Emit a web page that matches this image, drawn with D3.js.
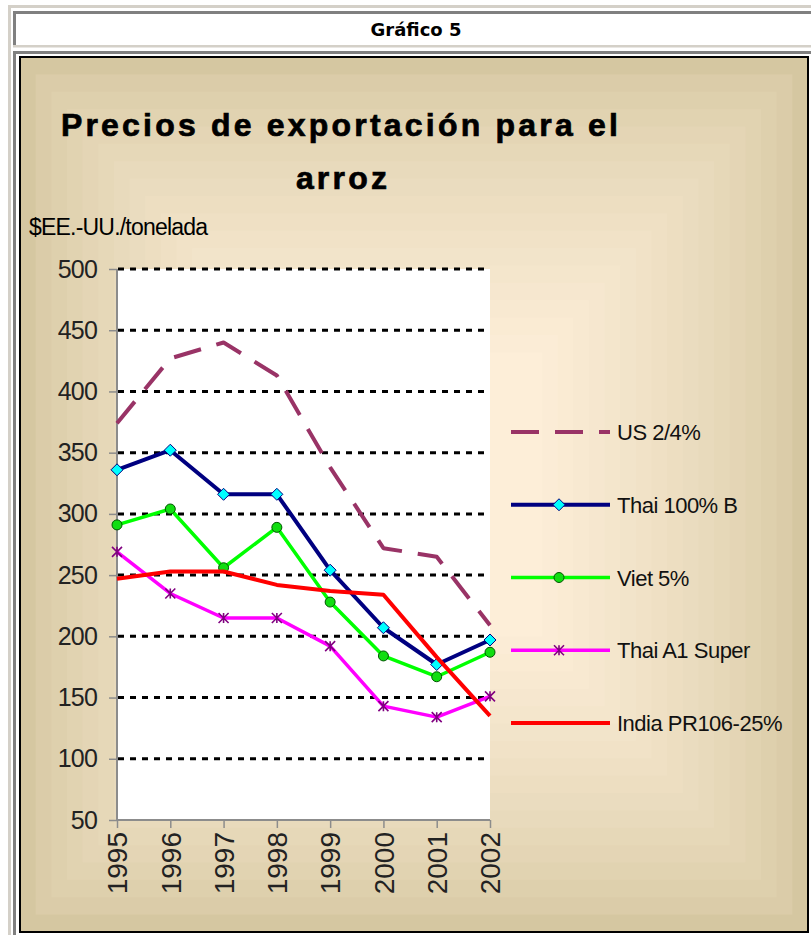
<!DOCTYPE html>
<html><head><meta charset="utf-8">
<script src="https://cdn.jsdelivr.net/npm/d3@7"></script>
<style>html,body{margin:0;padding:0;background:#fff;}svg{display:block;}</style>
</head><body>
<script>
const years = ["1995","1996","1997","1998","1999","2000","2001","2002"];
const us24     = [374, 427, 440, 413, 338, 272, 265, 209];
const thai100B = [336, 352, 316, 316, 254, 207, 177, 197];
const viet5    = [291, 304, 256, 289, 228, 184, 167, 187];
const thaiA1   = [269, 235, 215, 215, 192, 143, 134, 151];
const india    = [247, 253, 253, 242, 237, 234, 183, 135];
const seriesNames = ["US 2/4%", "Thai 100% B", "Viet 5%", "Thai A1 Super", "India PR106-25%"];
const yTicks = [50,100,150,200,250,300,350,400,450,500];
const gridTicks = [100,150,200,250,300,350,400,450,500];

const W = 811, H = 935;
const svg = d3.select("body").append("svg").attr("width", W).attr("height", H);

// page frame (html table look)
svg.append("rect").attr("x",0).attr("y",0).attr("width",W).attr("height",H).attr("fill","#fff");
svg.append("rect").attr("x",8).attr("y",5).attr("width",W-8).attr("height",3).attr("fill","#d4d0c8");
svg.append("rect").attr("x",8).attr("y",5).attr("width",3).attr("height",H-5).attr("fill","#d4d0c8");
// header cell
svg.append("rect").attr("x",13).attr("y",11).attr("width",W-13).attr("height",3).attr("fill","#808080");
svg.append("rect").attr("x",13).attr("y",11).attr("width",3).attr("height",36).attr("fill","#808080");
svg.append("rect").attr("x",13).attr("y",45).attr("width",W-13).attr("height",2.5).attr("fill","#d4d0c8");
svg.append("text").attr("x",416).attr("y",36).attr("text-anchor","middle")
  .attr("font-family","DejaVu Sans, Verdana, sans-serif").attr("font-weight","bold").attr("font-size",18)
  .attr("fill","#000").text("Gráfico 5");
// chart cell
svg.append("rect").attr("x",13).attr("y",51).attr("width",W-13).attr("height",3).attr("fill","#808080");
svg.append("rect").attr("x",13).attr("y",51).attr("width",3).attr("height",H-51).attr("fill","#808080");

// chart area with rectangular "from center" gradient
const cx0 = 20, cy0 = 57, cw = 788, ch = 875;
const ccx = cx0 + cw/2, ccy = cy0 + ch/2;
const edgeCol = "#d5c7a1", centerCol = "#fdeed8";
const nb = 18;
const col = d3.interpolateRgb(edgeCol, centerCol);
d3.range(nb).forEach(i => {
  const s = 1 - i * (1 - 0.325) / (nb - 1);
  const t = Math.pow(i/(nb-1), 0.7);
  svg.append("rect")
    .attr("x", ccx - cw/2*s).attr("y", ccy - ch/2*s)
    .attr("width", cw*s).attr("height", ch*s)
    .attr("fill", col(t));
});
svg.append("rect").attr("x",cx0).attr("y",cy0).attr("width",cw).attr("height",ch)
  .attr("fill","none").attr("stroke","#000").attr("stroke-width",2);

// Title
const titleFont = "Liberation Sans, Arial, sans-serif";
svg.append("text").attr("x",341).attr("y",136).attr("text-anchor","middle")
  .attr("font-family",titleFont).attr("font-weight","bold").attr("font-size",32)
  .attr("letter-spacing",3.2).attr("stroke","#000").attr("stroke-width",0.7)
  .attr("fill","#000").text("Precios de exportación para el");
svg.append("text").attr("x",343).attr("y",189).attr("text-anchor","middle")
  .attr("font-family",titleFont).attr("font-weight","bold").attr("font-size",32)
  .attr("letter-spacing",3.2).attr("stroke","#000").attr("stroke-width",0.7)
  .attr("fill","#000").text("arroz");
svg.append("text").attr("x",29).attr("y",235)
  .attr("font-family",titleFont).attr("font-size",23).attr("letter-spacing",-0.8)
  .attr("fill","#000").text("$EE.-UU./tonelada");

// scales
const x = d3.scalePoint().domain(years).range([117, 490]);
const y = d3.scaleLinear().domain([50, 500]).range([820, 269]);

// plot area
svg.append("rect").attr("x",117).attr("y",y(500)).attr("width",490-117).attr("height",y(50)-y(500)).attr("fill","#fff");

// gridlines
svg.append("g").selectAll("line").data(gridTicks).join("line")
  .attr("x1",118).attr("x2",490).attr("y1",d=>y(d)).attr("y2",d=>y(d))
  .attr("stroke","#000").attr("stroke-width",3).attr("stroke-dasharray","6,6");

// axes
const yAxis = svg.append("g").attr("transform","translate(117,0)")
  .call(d3.axisLeft(y).tickValues(yTicks).tickSize(8).tickPadding(12).tickFormat(d3.format("d")));
yAxis.select(".domain").attr("stroke","#8c8c8c").attr("stroke-width",2).attr("d","M0,"+y(500)+"V"+y(50));
yAxis.selectAll(".tick line").attr("stroke","#8c8c8c").attr("stroke-width",1.5);
yAxis.selectAll(".tick text").attr("font-family",titleFont).attr("font-size",25)
  .attr("letter-spacing",-0.8).attr("fill","#222");

const xAxis = svg.append("g").attr("transform","translate(0,820)")
  .call(d3.axisBottom(x).tickSize(8).tickPadding(4));
xAxis.select(".domain").attr("stroke","#8c8c8c").attr("stroke-width",2).attr("d","M117,0H490");
xAxis.selectAll(".tick line").attr("stroke","#8c8c8c").attr("stroke-width",1.5);
xAxis.selectAll(".tick text").attr("font-family",titleFont).attr("font-size",28)
  .attr("fill","#222").attr("text-anchor","end")
  .attr("transform","rotate(-90)").attr("x",-12).attr("y",0).attr("dy","0.35em");

// series
const series = [
  {name: seriesNames[0], vals: us24, color: "#993366", width: 4, dash: "28,16", marker: null},
  {name: seriesNames[1], vals: thai100B, color: "#000080", width: 4, dash: null, marker: "diamond"},
  {name: seriesNames[2], vals: viet5, color: "#00ff00", width: 3.5, dash: null, marker: "circle"},
  {name: seriesNames[3], vals: thaiA1, color: "#ff00ff", width: 3.5, dash: null, marker: "star"},
  {name: seriesNames[4], vals: india, color: "#ff0000", width: 4, dash: null, marker: null}
];

const line = d3.line().x((d,i)=>x(years[i])).y(d=>y(d));

function drawMarker(g, type, px, py) {
  if (type === "diamond") {
    g.append("path").attr("d",`M${px},${py-6}L${px+6},${py}L${px},${py+6}L${px-6},${py}Z`)
      .attr("fill","#00ffff").attr("stroke","#000080").attr("stroke-width",1);
  } else if (type === "circle") {
    g.append("circle").attr("cx",px).attr("cy",py).attr("r",5)
      .attr("fill","#11dd11").attr("stroke","#005500").attr("stroke-width",1);
  } else if (type === "star") {
    const r = 5;
    g.append("path").attr("d",`M${px},${py-r}V${py+r}M${px-r},${py-r}L${px+r},${py+r}M${px+r},${py-r}L${px-r},${py+r}`)
      .attr("stroke","#800080").attr("stroke-width",1.6).attr("fill","none");
  }
}

series.forEach(s => {
  const g = svg.append("g");
  g.append("path").datum(s.vals).attr("d", line).attr("fill","none")
    .attr("stroke", s.color).attr("stroke-width", s.width)
    .attr("stroke-dasharray", s.dash).attr("stroke-linejoin","round");
  if (s.marker) s.vals.forEach((v,i) => drawMarker(g, s.marker, x(years[i]), y(v)));
});

// legend
const legY = d3.scalePoint().domain(seriesNames).range([432, 723]);
series.forEach(s => {
  const ly = legY(s.name);
  const g = svg.append("g");
  g.append("line").attr("x1",511).attr("x2",610).attr("y1",ly).attr("y2",ly)
    .attr("stroke", s.color).attr("stroke-width", s.width).attr("stroke-dasharray", s.dash);
  if (s.marker) drawMarker(g, s.marker, 559, ly);
  g.append("text").attr("x",617).attr("y",ly+8).attr("font-family",titleFont)
    .attr("font-size",22).attr("letter-spacing",-0.5).attr("fill","#111").text(s.name);
});
</script>
</body></html>
